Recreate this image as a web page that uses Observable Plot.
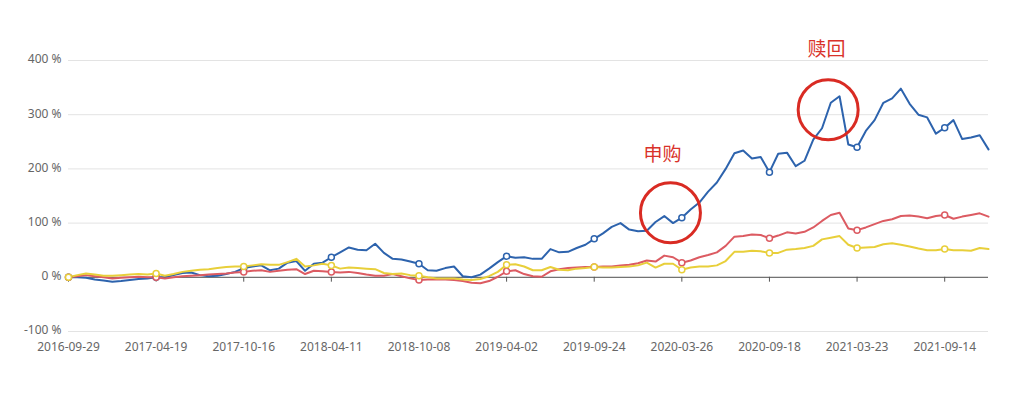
<!DOCTYPE html>
<html><head><meta charset="utf-8">
<script src="https://cdn.jsdelivr.net/npm/d3@7"></script>
<script src="https://cdn.jsdelivr.net/npm/@observablehq/plot@0.6"></script>
<style>
body{margin:0;background:#fff;}
#chart svg{font-family:"Noto Sans","Microsoft YaHei",sans-serif;}
</style>
</head><body><div id="chart"></div>
<script>
const tickLabels = ["2016-09-29","2017-04-19","2017-10-16","2018-04-11","2018-10-08","2019-04-02","2019-09-24","2020-03-26","2020-09-18","2021-03-23","2021-09-14"];
const tickStep = 10;

const fundBlue = [0,0,-1,-4,-6,-8,-7,-5,-3,-2,
  0,0,4,8,9,4,2,3,6,10,
  17,20,22,13,16,27,30,12,25,27,
  37,46,55,51,50,62,45,34,33,29,
  25,13,12,17,20,2,0,5,16,28,
  39,36,37,34,34,52,46,47,54,60,
  71,81,93,100,88,85,86,102,113,100,
  110,125,138,158,175,200,229,234,219,222,
  194,228,230,205,215,254,275,322,334,245,
  240,270,290,322,330,348,320,300,295,265,
  276,290,255,258,262,236];
const fundRed = [0,2,4,2,0,-2,-1,0,1,0,
  0,-2,0,2,3,4,5,6,7,9,
  10,12,13,10,12,14,15,6,12,11,
  10,9,10,8,5,3,3,6,2,-2,
  -5,-4,-4,-4,-5,-7,-10,-11,-7,1,
  11,13,6,2,1,11,15,17,18,19,
  19,20,20,22,23,26,31,29,40,37,
  27,31,37,41,46,58,75,76,79,78,
  72,77,83,81,84,92,104,115,119,90,
  87,92,98,104,107,113,114,112,109,113,
  115,108,112,115,118,112];
const fundYellow = [0,4,7,5,3,3,4,5,6,5,
  7,3,6,10,12,14,15,17,19,20,
  20,22,24,23,23,28,34,20,22,25,
  22,16,18,17,16,15,8,6,7,4,
  3,0,-2,-2,-2,-4,-5,-3,2,10,
  23,24,20,13,13,19,14,13,16,17,
  19,18,18,19,20,22,27,18,25,25,
  14,18,20,20,22,30,47,47,49,48,
  45,45,51,52,54,58,70,73,76,60,
  54,55,56,61,63,60,57,53,50,50,
  52,50,50,49,54,52];

const seriesNames = ["s1","s2","s3"];
const seriesColors = ["#2d63ad","#dc5b62","#e8cf3a"];
const seriesValues = [fundBlue, fundRed, fundYellow];

const yTicks = [-100,0,100,200,300,400];

const annotations = [
  {label:"申购", cx:68.7, cy:119, tx:67.8, ty:226},
  {label:"赎回", cx:86.7, cy:309, tx:86.5, ty:419}
];

const rows = [];
seriesValues.forEach((vals, s) => vals.forEach((v, i) => rows.push({i, v, s: seriesNames[s]})));
const tickIdx = tickLabels.map((_, k) => k * tickStep);
const markerRows = rows.filter(d => d.i % tickStep === 0);

const plot = Plot.plot({
  width: 1030,
  height: 400,
  marginLeft: 68,
  marginRight: 42,
  marginTop: 60,
  marginBottom: 69,
  x: {domain: [0, fundBlue.length - 1]},
  y: {domain: [-100, 400]},
  color: {domain: seriesNames, range: seriesColors},
  marks: [
    Plot.gridY(yTicks, {stroke: "#e3e3e3", strokeOpacity: 1}),
    Plot.axisY(yTicks, {tickSize: 0, tickPadding: 7, dy: -1, tickFormat: d => d + " %", fill: "#666", fontSize: 12, label: null}),
    Plot.axisX(tickIdx, {anchor: "bottom", tickSize: 0, tickPadding: 11, tickFormat: (d) => tickLabels[d / tickStep], fill: "#666", fontSize: 12, label: null}),
    Plot.ruleY([0], {stroke: "#555", strokeWidth: 1}),
    Plot.ruleX(tickIdx, {y1: 0, y2: -9, stroke: "#555"}),
    Plot.line(rows, {x: "i", y: "v", z: "s", stroke: "s", strokeWidth: 2, curve: "linear"}),
    Plot.dot(markerRows, {x: "i", y: "v", stroke: "s", fill: "white", r: 3, strokeWidth: 1.5}),
    Plot.dot(annotations, {x: "cx", y: "cy", r: 30, stroke: "#d92b23", strokeWidth: 3, fill: "none"}),
    Plot.text(annotations, {x: "tx", y: "ty", text: "label", fill: "#d9322a", fontSize: 19, fontFamily: "Noto Sans CJK SC"})
  ]
});
document.getElementById("chart").appendChild(plot);
</script>
</body></html>
